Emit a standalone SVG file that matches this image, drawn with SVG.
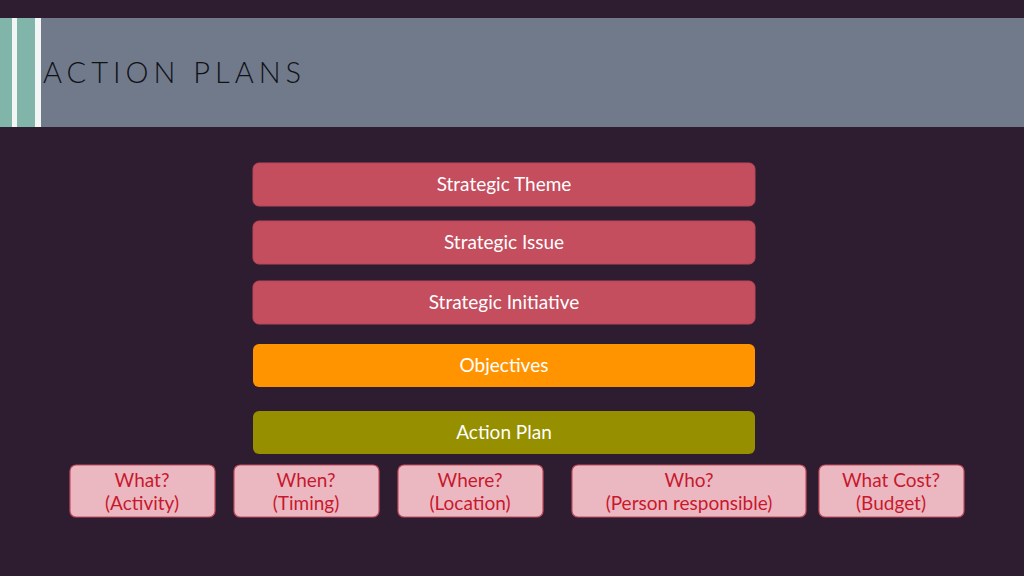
<svg xmlns="http://www.w3.org/2000/svg" width="1024" height="576" viewBox="0 0 1024 576">
<style>
.bar{fill:#c44d5e;stroke:#b8475a;stroke-width:1}
.t{font-family:"Lato","Liberation Sans",sans-serif;font-size:19px;fill:#ffffff;text-anchor:middle}
.sb{fill:#ebb8c1;stroke:#c44d5e;stroke-width:1.2}
.s{font-family:"Lato","Liberation Sans",sans-serif;font-size:19px;fill:#c8182e;text-anchor:middle}
</style>
<rect width="1024" height="576" fill="#2e1c30"/>
<rect x="0" y="18" width="1024" height="109" fill="#717a8a"/>
<rect x="0" y="18" width="12" height="109" fill="#82b5aa"/>
<rect x="12" y="18" width="5" height="109" fill="#f2f7f6"/>
<rect x="17" y="18" width="18" height="109" fill="#82b5aa"/>
<rect x="35" y="18" width="6" height="109" fill="#f2f7f6"/>
<text x="43" y="83" font-family="Lato,'Liberation Sans',sans-serif" font-size="29" font-weight="300" letter-spacing="5" fill="#0f1118">ACTION PLANS</text>
<g id="theme"><rect class="bar" x="253" y="163" width="502" height="43" rx="6"/><text class="t" x="504" y="191">Strategic Theme</text></g>
<g id="issue"><rect class="bar" x="253" y="221" width="502" height="43" rx="6"/><text class="t" x="504" y="249">Strategic Issue</text></g>
<g id="initiative"><rect class="bar" x="253" y="281" width="502" height="43" rx="6"/><text class="t" x="504" y="309">Strategic Initiative</text></g>
<g id="objectives"><rect x="253" y="344" width="502" height="43" rx="6" fill="#ff9400"/><text class="t" x="504" y="372">Objectives</text></g>
<g id="actionplan"><rect x="253" y="411" width="502" height="43" rx="6" fill="#968f00"/><text class="t" x="504" y="439">Action Plan</text></g>
<g id="what"><rect class="sb" x="70" y="465" width="145" height="52" rx="6"/><text class="s" x="142" y="487">What?</text><text class="s" x="142" y="510">(Activity)</text></g>
<g id="when"><rect class="sb" x="234" y="465" width="145" height="52" rx="6"/><text class="s" x="306" y="487">When?</text><text class="s" x="306" y="510">(Timing)</text></g>
<g id="where"><rect class="sb" x="398" y="465" width="145" height="52" rx="6"/><text class="s" x="470" y="487">Where?</text><text class="s" x="470" y="510">(Location)</text></g>
<g id="who"><rect class="sb" x="572" y="465" width="234" height="52" rx="6"/><text class="s" x="689" y="487">Who?</text><text class="s" x="689" y="510">(Person responsible)</text></g>
<g id="cost"><rect class="sb" x="819" y="465" width="145" height="52" rx="6"/><text class="s" x="891" y="487">What Cost?</text><text class="s" x="891" y="510">(Budget)</text></g>
<g id="connectors"/>
</svg>
